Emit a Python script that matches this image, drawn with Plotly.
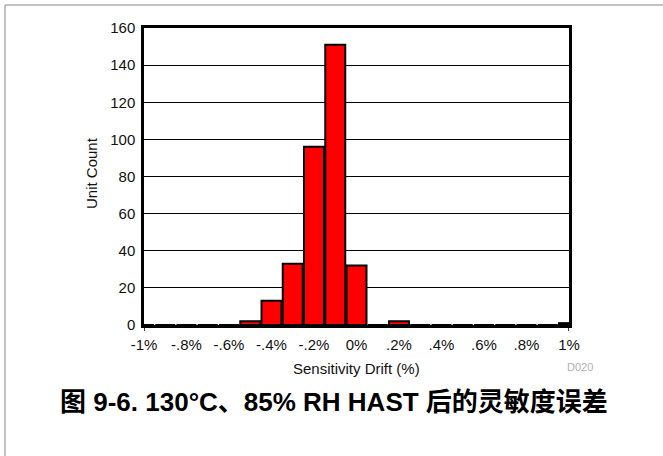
import plotly.graph_objects as go

# histogram bins (% drift) and unit counts
drift = [-1.0, -0.9, -0.8, -0.7, -0.6, -0.5, -0.4, -0.3, -0.2, -0.1,
         0.0, 0.1, 0.2, 0.3, 0.4, 0.5, 0.6, 0.7, 0.8, 0.9, 1.0]
counts = [0, 0, 0, 0, 0, 2, 13, 33, 96, 151,
          32, 0, 2, 0, 0, 0, 0, 0, 0, 0, 1]

xtick_vals = [-1.0, -0.8, -0.6, -0.4, -0.2, 0.0, 0.2, 0.4, 0.6, 0.8, 1.0]
xtick_text = ["-1%", "-.8%", "-.6%", "-.4%", "-.2%", "0%", ".2%", ".4%", ".6%", ".8%", "1%"]
ytick_vals = [0, 20, 40, 60, 80, 100, 120, 140, 160]

W, H = 663, 456
L, R, T, B = 144, 94, 28, 131
pw, ph = W - L - R, H - T - B


def px(x):
    return (x - L) / pw


def py(y):
    return (H - B - y) / ph


font = "Liberation Sans, Arial, Helvetica, sans-serif"

fig = go.Figure([go.Bar(
    x=drift, y=counts, width=0.094,
    marker=dict(color="#ff0000", line=dict(color="black", width=2)),
)])

fig.update_layout(
    width=W, height=H,
    margin=dict(l=L, r=R, t=T, b=B),
    paper_bgcolor="white", plot_bgcolor="white",
    showlegend=False,
    font=dict(family=font, size=15, color="#111"),
    xaxis=dict(
        range=[-1.0, 1.0], tickvals=xtick_vals, ticktext=xtick_text,
        showgrid=False, zeroline=False, ticks="", ticklabelstandoff=4,
        showline=True, linecolor="black", linewidth=2.5, mirror=True,
        tickfont=dict(size=15),
    ),
    yaxis=dict(
        range=[0, 160], tickvals=ytick_vals,
        showgrid=True, gridcolor="black", gridwidth=1, zeroline=False,
        ticks="", ticklabelstandoff=3,
        showline=True, linecolor="black", linewidth=2.5, mirror=True,
        tickfont=dict(size=15),
    ),
    annotations=[
        dict(text="Sensitivity Drift (%)", xref="paper", yref="paper",
             x=px(356), y=py(368), xanchor="center", yanchor="middle",
             showarrow=False, font=dict(size=15, color="#111")),
        dict(text="Unit Count", xref="paper", yref="paper",
             x=px(91), y=py(173), xanchor="center", yanchor="middle",
             textangle=-90, showarrow=False, font=dict(size=15, color="#111")),
        dict(text="D020", xref="paper", yref="paper",
             x=px(580), y=py(367), xanchor="center", yanchor="middle",
             showarrow=False, font=dict(size=11, color="#b0b0b0")),
        dict(text="<b>图 9-6. 130°C、85% RH HAST 后的灵敏度误差</b>",
             xref="paper", yref="paper", x=px(334), y=py(402),
             xanchor="center", yanchor="middle", showarrow=False,
             font=dict(size=26, color="black",
                       family="Liberation Sans, Arial, Noto Sans CJK SC")),
    ],
    shapes=[
        # end ticks below the x axis
        dict(type="line", xref="x", yref="paper", x0=-1, x1=-1, y0=0, y1=py(331),
             line=dict(color="black", width=1.5)),
        dict(type="line", xref="x", yref="paper", x0=1, x1=1, y0=0, y1=py(331),
             line=dict(color="black", width=1.5)),
        # page frame
        dict(type="line", xref="paper", yref="paper", x0=px(5), x1=px(5),
             y0=py(5), y1=py(460), line=dict(color="#888", width=1)),
        dict(type="line", xref="paper", yref="paper", x0=px(5), x1=px(670),
             y0=py(5), y1=py(5), line=dict(color="#888", width=1)),
    ],
)

fig.write_html("out.html", config={"displayModeBar": False},
               post_script="document.body.style.margin='0px';")
